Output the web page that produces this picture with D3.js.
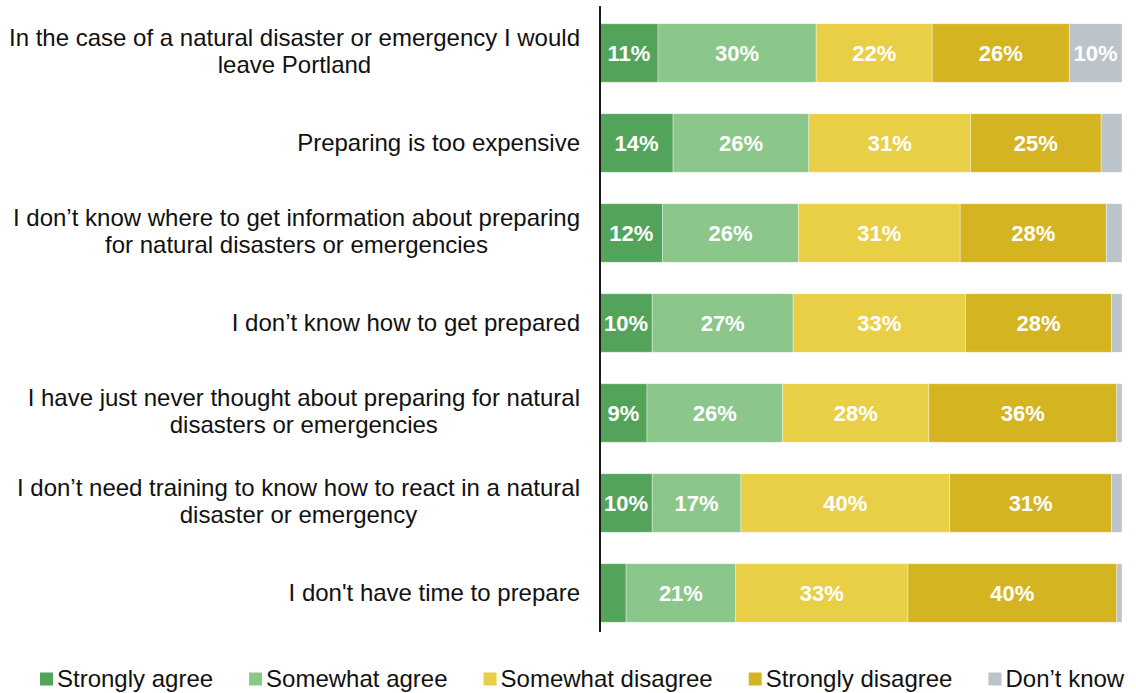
<!DOCTYPE html>
<html>
<head>
<meta charset="utf-8">
<script src="https://cdn.jsdelivr.net/npm/d3@7"></script>
<style>
  html, body { margin: 0; padding: 0; background: #ffffff; }
  svg { display: block; font-family: "Liberation Sans", Arial, sans-serif; }
</style>
</head>
<body>
<svg id="chart" width="1136" height="693"></svg>
<script>
// Statements (each entry is the wrapped lines of one label)
const statements = [
  ["In the case of a natural disaster or emergency I would", "leave Portland"],
  ["Preparing is too expensive"],
  ["I don’t know where to get information about preparing", "for natural disasters or emergencies"],
  ["I don’t know how to get prepared"],
  ["I have just never thought about preparing for natural", "disasters or emergencies"],
  ["I don’t need training to know how to react in a natural", "disaster or emergency"],
  ["I don't have time to prepare"]
];

// Response categories, in stacking order
const responses = ["Strongly agree", "Somewhat agree", "Somewhat disagree", "Strongly disagree", "Don’t know"];

// Percent of respondents per statement, one array per response
const stronglyAgree     = [11, 14, 12, 10, 9, 10, 5];
const somewhatAgree     = [30, 26, 26, 27, 26, 17, 21];
const somewhatDisagree  = [22, 31, 31, 33, 28, 40, 33];
const stronglyDisagree  = [26, 25, 28, 28, 36, 31, 40];
const dontKnow          = [10, 4, 3, 2, 1, 2, 1];

const colors = ["#53a45a", "#8bc68a", "#e9cf46", "#d4b421", "#bac4ca"];

const seriesValues = [stronglyAgree, somewhatAgree, somewhatDisagree, stronglyDisagree, dontKnow];

// Build row records; each row is stacked to 100% of its own total
const rows = statements.map((lines, i) => {
  const rec = { id: i, lines };
  responses.forEach((r, j) => { rec[r] = seriesValues[j][i]; });
  rec.total = d3.sum(seriesValues, s => s[i]);
  return rec;
});

const svg = d3.select("#chart");

const x = d3.scaleLinear().domain([0, 1]).range([600, 1122]);
const y = d3.scaleBand()
  .domain(rows.map(d => d.id))
  .range([8, 638])
  .paddingInner(0.35)
  .paddingOuter(0.175);
const color = d3.scaleOrdinal().domain(responses).range(colors);

const stack = d3.stack()
  .keys(responses)
  .value((d, key) => d[key] / d.total);
const stacked = stack(rows);

// Bars
const layers = svg.append("g").selectAll("g")
  .data(stacked)
  .join("g")
  .attr("fill", s => color(s.key));

layers.selectAll("rect")
  .data(s => s.map(p => ({ p, key: s.key })))
  .join("rect")
  .attr("x", d => x(d.p[0]))
  .attr("y", d => y(d.p.data.id))
  .attr("width", d => x(d.p[1]) - x(d.p[0]))
  .attr("height", y.bandwidth())
  .attr("stroke", "#ffffff")
  .attr("stroke-opacity", 0.45)
  .attr("stroke-width", 0.8);

// Value labels inside segments
layers.selectAll("text")
  .data(s => s.map(p => ({ p, key: s.key })).filter(d => d.p.data[d.key] >= 9))
  .join("text")
  .attr("x", d => (x(d.p[0]) + x(d.p[1])) / 2)
  .attr("y", d => y(d.p.data.id) + y.bandwidth() / 2)
  .attr("dy", "0.36em")
  .attr("text-anchor", "middle")
  .attr("fill", "#ffffff")
  .attr("font-weight", "bold")
  .attr("font-size", 22)
  .text(d => d.p.data[d.key] + "%");

// Vertical category axis line
svg.append("line")
  .attr("x1", 600).attr("x2", 600)
  .attr("y1", 6).attr("y2", 632)
  .attr("stroke", "#1a1a1a")
  .attr("stroke-width", 2);

// Category labels: block right-aligned to the axis, lines centred within the block
const labelRight = 580;
const lineGap = 27;
const labelG = svg.append("g").attr("font-size", 24).attr("fill", "#111111");
rows.forEach(d => {
  const cy = y(d.id) + y.bandwidth() / 2 - (d.lines.length > 1 ? 1.5 : 0);
  const n = d.lines.length;
  const t0 = labelG.append("text")
    .attr("text-anchor", "end")
    .attr("x", labelRight)
    .attr("y", cy - (n - 1) * lineGap / 2)
    .attr("dy", "0.35em")
    .text(d.lines[0]);
  const w0 = t0.node().getComputedTextLength();
  const center = labelRight - w0 / 2;
  for (let k = 1; k < n; k++) {
    labelG.append("text")
      .attr("text-anchor", "middle")
      .attr("x", center)
      .attr("y", cy - (n - 1) * lineGap / 2 + k * lineGap)
      .attr("dy", "0.35em")
      .text(d.lines[k]);
  }
});

// Legend along the bottom
const legend = svg.append("g").attr("font-size", 24).attr("fill", "#111111");
let lx = 40;
const ly = 679;
responses.forEach(r => {
  legend.append("rect")
    .attr("x", lx).attr("y", ly - 6.5)
    .attr("width", 13).attr("height", 13)
    .attr("fill", color(r));
  const t = legend.append("text")
    .attr("x", lx + 17)
    .attr("y", ly)
    .attr("dy", "0.35em")
    .text(r);
  lx += 17 + t.node().getComputedTextLength() + 36;
});
</script>
</body>
</html>
